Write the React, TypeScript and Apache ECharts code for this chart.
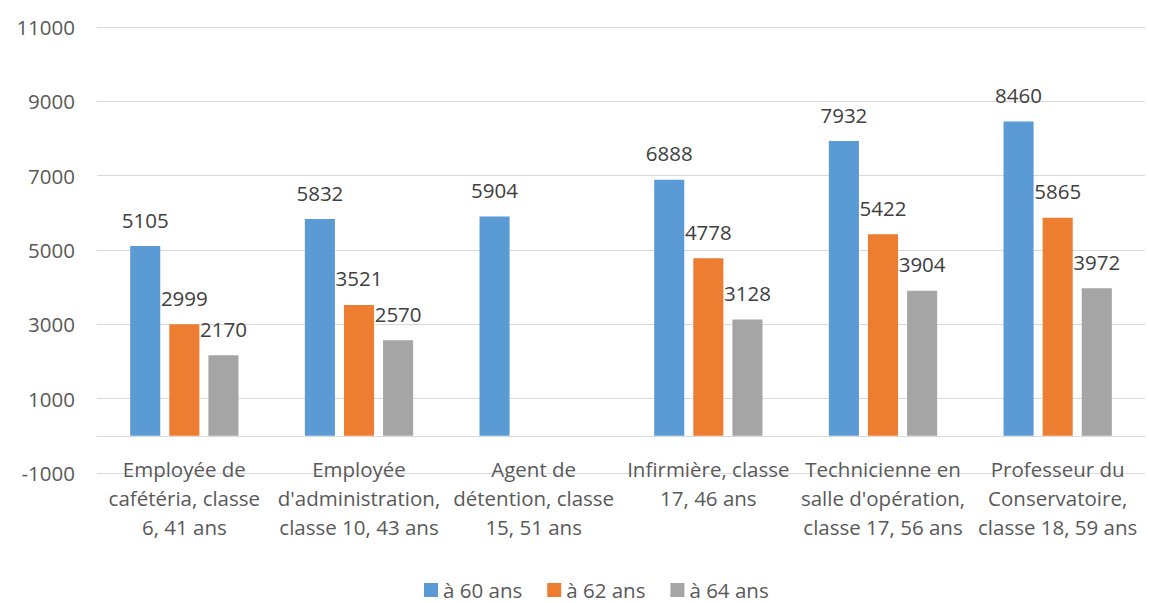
import React, { useEffect, useRef } from "react";
import * as echarts from "echarts";

const categories = [
  "Employée de\ncafétéria, classe\n6, 41 ans",
  "Employée\nd'administration,\nclasse 10, 43 ans",
  "Agent de\ndétention, classe\n15, 51 ans",
  "Infirmière, classe\n17, 46 ans",
  "Technicienne en\nsalle d'opération,\nclasse 17, 56 ans",
  "Professeur du\nConservatoire,\nclasse 18, 59 ans",
];
const seriesNames = ["à 60 ans", "à 62 ans", "à 64 ans"];
const at60 = [5105, 5832, 5904, 6888, 7932, 8460];
const at62 = [2999, 3521, null, 4778, 5422, 5865];
const at64 = [2170, 2570, null, 3128, 3904, 3972];
const colors = ["#5B9BD5", "#ED7D31", "#A5A5A5"];
const yMin = -1000;
const yMax = 11000;
const yInterval = 2000;

const FONT = "'Open Sans', 'Noto Sans', sans-serif";
const FS = 20.5;

export default function App() {
  const ref = useRef<HTMLDivElement>(null);
  useEffect(() => {
    if (!ref.current) return;
    const chart = echarts.init(ref.current, null, { renderer: "svg" });
    const data = [at60, at62, at64];
    chart.setOption({
      animation: false,
      textStyle: { fontFamily: FONT },
      grid: { left: 97, right: 4, top: 27, bottom: 130, containLabel: false },
      legend: {
        data: seriesNames,
        top: 579,
        left: 424,
        icon: "rect",
        itemWidth: 14,
        itemHeight: 14,
        itemGap: 25,
        padding: 0,
        textStyle: { color: "#595959", fontSize: FS, fontFamily: FONT, lineHeight: 22 },
      },
      xAxis: {
        type: "category",
        data: categories,
        axisLine: { show: true, onZero: true, lineStyle: { color: "#D9D9D9", width: 1 } },
        axisTick: { show: false },
        axisLabel: {
          color: "#595959",
          fontSize: FS,
          lineHeight: 29,
          margin: -19,
          interval: 0,
          align: "center",
          fontFamily: FONT,
        },
      },
      yAxis: {
        type: "value",
        min: yMin,
        max: yMax,
        interval: yInterval,
        axisLine: { show: false },
        axisTick: { show: false },
        splitLine: { lineStyle: { color: "#D9D9D9", width: 1 } },
        axisLabel: {
          color: "#595959",
          fontSize: FS,
          margin: 22,
          fontFamily: FONT,
          formatter: (v: number) => String(v),
        },
      },
      series: seriesNames.map((name, i) => ({
        name,
        type: "bar",
        data: data[i],
        barGap: "30%",
        barCategoryGap: "38%",
        itemStyle: { color: colors[i] },
        label: {
          show: true,
          position: "top",
          distance: 16,
          color: "#404040",
          fontSize: FS,
          fontFamily: FONT,
        },
      })),
    });
    return () => chart.dispose();
  }, []);
  return <div ref={ref} style={{ width: 1149, height: 603, position: "absolute", left: 0, top: 0 }} />;
}
